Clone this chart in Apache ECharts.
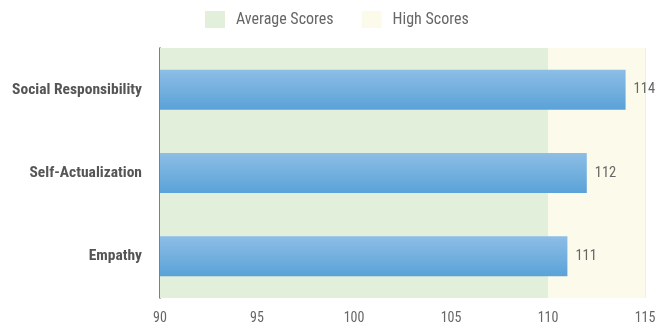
<!DOCTYPE html>
<html><head><meta charset="utf-8">
<script src="https://cdn.jsdelivr.net/npm/echarts@6/dist/echarts.min.js"></script>
<style>html,body{margin:0;padding:0;background:#fff}#c{width:655px;height:334px}</style>
</head><body><div id="c"></div>
<script>
const categories = ['Social Responsibility', 'Self-Actualization', 'Empathy'];
const scores = [114, 112, 111];
const averageRange = [90, 110];
const highRange = [110, 115];
const xTicks = [90, 95, 100, 105, 110, 115];

const font = '"Liberation Sans Narrow", "Roboto Condensed", "Liberation Sans", sans-serif';
const chart = echarts.init(document.getElementById('c'));
chart.setOption({
  animation: false,
  legend: {
    top: 6, left: 200, itemWidth: 20, itemHeight: 17, itemGap: 28,
    icon: 'rect',
    textStyle: { color: '#666', fontSize: 16, fontFamily: font, padding: [0, 0, 0, 6] },
    data: ['Average Scores', 'High Scores']
  },
  grid: { left: 160, right: 10, top: 48, bottom: 36, outerBoundsMode: 'none', containLabel: false },
  xAxis: {
    type: 'value', min: xTicks[0], max: xTicks[xTicks.length - 1], interval: 5,
    axisLine: { show: false }, axisTick: { show: false },
    splitLine: { show: true, lineStyle: { color: 'rgba(200,215,190,0.35)' } },
    axisLabel: { color: '#666', fontSize: 14, fontFamily: font, margin: 13 }
  },
  yAxis: {
    type: 'category', data: categories, inverse: true,
    axisLine: { show: true, lineStyle: { color: '#555', width: 1.5 } },
    axisTick: { show: false },
    axisLabel: { color: '#555', fontSize: 15.5, fontWeight: 'bold', fontFamily: font, margin: 18 }
  },
  series: [
    { name: 'Average Scores', type: 'bar', data: [], itemStyle: { color: '#e2efda' },
      markArea: { silent: true, itemStyle: { color: '#e2efda' },
        data: [[{ xAxis: averageRange[0] }, { xAxis: averageRange[1] }]] } },
    { name: 'High Scores', type: 'bar', data: [], itemStyle: { color: '#fcfaea' },
      markArea: { silent: true, itemStyle: { color: '#fcfaea' },
        data: [[{ xAxis: highRange[0] }, { xAxis: highRange[1] }]] } },
    { name: 'Score', type: 'bar', data: scores, barWidth: 40, barGap: '-100%', z: 5,
      itemStyle: { color: new echarts.graphic.LinearGradient(0, 0, 0, 1, [
        { offset: 0, color: '#8dbee6' }, { offset: 1, color: '#5aa2d8' }]) },
      label: { show: true, position: 'right', distance: 8, color: '#666', fontSize: 14.5, fontFamily: font } }
  ]
});
</script></body></html>
